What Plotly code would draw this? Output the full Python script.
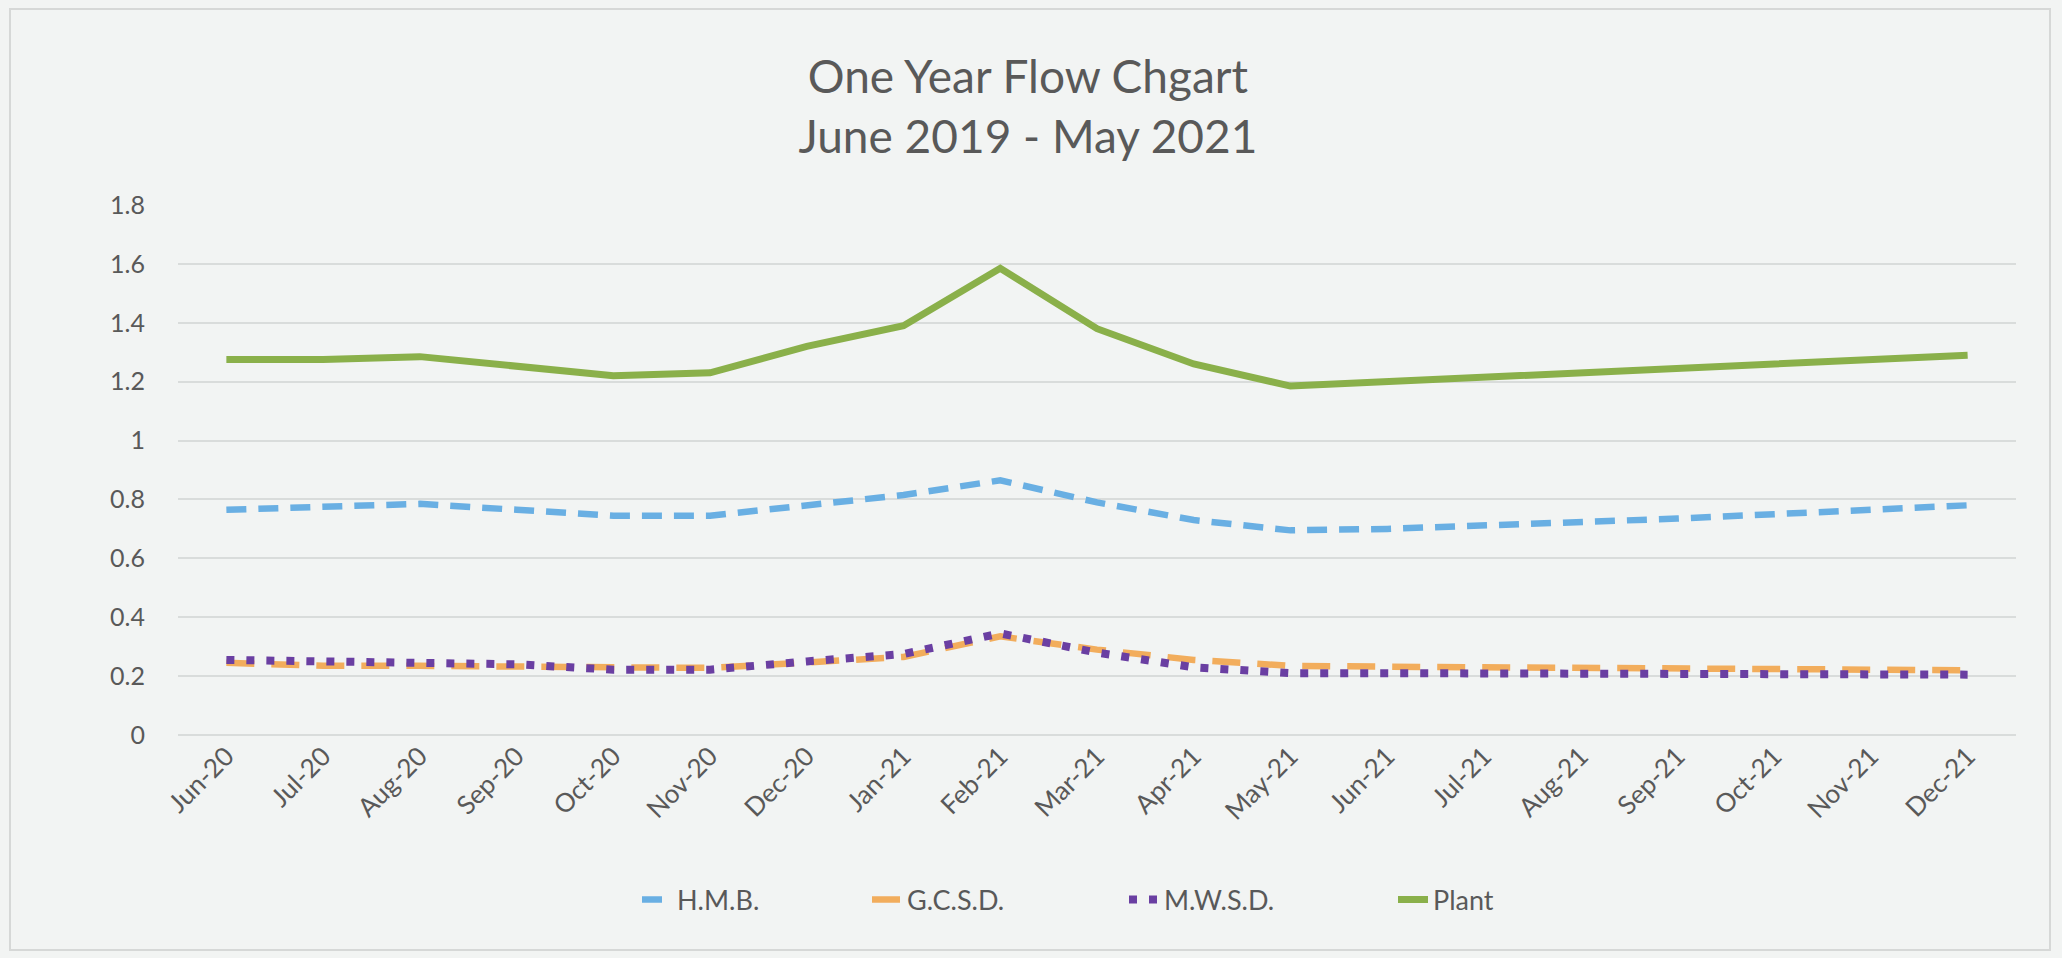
import plotly.graph_objects as go

# Monthly flow categories and series values
months = ["Jun-20", "Jul-20", "Aug-20", "Sep-20", "Oct-20", "Nov-20", "Dec-20",
          "Jan-21", "Feb-21", "Mar-21", "Apr-21", "May-21", "Jun-21", "Jul-21",
          "Aug-21", "Sep-21", "Oct-21", "Nov-21", "Dec-21"]

hmb = [0.765, 0.775, 0.785, 0.765, 0.745, 0.745, 0.78,
       0.815, 0.865, 0.79, 0.73, 0.695, 0.70, 0.71,
       0.72, 0.735, 0.75, 0.765, 0.78]

gcsd = [0.245, 0.235, 0.235, 0.23, 0.23, 0.228, 0.245,
        0.265, 0.335, 0.29, 0.255, 0.235, 0.232, 0.23,
        0.228, 0.226, 0.224, 0.222, 0.22]

mwsd = [0.255, 0.25, 0.248, 0.24, 0.222, 0.222, 0.25,
        0.275, 0.345, 0.28, 0.23, 0.21, 0.21, 0.21,
        0.208, 0.208, 0.207, 0.206, 0.205]

plant = [1.275, 1.275, 1.285, 1.25, 1.22, 1.23, 1.32,
         1.39, 1.585, 1.38, 1.26, 1.185, 1.20, 1.215,
         1.23, 1.245, 1.26, 1.275, 1.29]

y_ticks = [0, 0.2, 0.4, 0.6, 0.8, 1, 1.2, 1.4, 1.6, 1.8]
y_tick_labels = ["0", "0.2", "0.4", "0.6", "0.8", "1", "1.2", "1.4", "1.6", "1.8"]

font_family = "Lato, 'Open Sans', sans-serif"
text_color = "#595959"

# plot area in pixels (left edge and width) used to place the legend entries
plot_left, plot_width = 178, 1838

fig = go.Figure()

fig.add_trace(go.Scatter(
    x=months, y=hmb, name="H.M.B.", mode="lines", legend="legend",
    line=dict(color="#69AFE3", width=6.5, dash="20px,12px"),
))
fig.add_trace(go.Scatter(
    x=months, y=gcsd, name="G.C.S.D.", mode="lines", legend="legend2",
    line=dict(color="#F2AD5C", width=6.5, dash="28px,17px"),
))
fig.add_trace(go.Scatter(
    x=months, y=mwsd, name="M.W.S.D.", mode="lines", legend="legend3",
    line=dict(color="#6A3FA2", width=8, dash="8px,12px"),
))
fig.add_trace(go.Scatter(
    x=months, y=plant, name="Plant", mode="lines", legend="legend4",
    line=dict(color="#8AB04A", width=7),
))


def legend_at(px):
    return dict(
        orientation="h",
        x=(px - plot_left) / plot_width, xanchor="left",
        y=-0.311, yanchor="middle",
        font=dict(family=font_family, size=27, color=text_color),
        bgcolor="rgba(0,0,0,0)",
    )


fig.update_layout(
    width=2062,
    height=958,
    paper_bgcolor="#f2f4f3",
    plot_bgcolor="#f2f4f3",
    margin=dict(l=178, r=46, t=205, b=223),
    title=dict(
        text="One Year Flow Chgart<br>June 2019 - May 2021",
        x=0.4985, xanchor="center",
        y=0.903, yanchor="middle",
        font=dict(family=font_family, size=46, color=text_color),
    ),
    font=dict(family=font_family, color=text_color),
    showlegend=True,
    legend=legend_at(637),
    legend2=legend_at(867),
    legend3=legend_at(1124),
    legend4=legend_at(1393),
    xaxis=dict(
        type="category",
        tickangle=-45,
        tickfont=dict(family=font_family, size=26, color=text_color),
        showgrid=False,
        showline=False,
        zeroline=False,
        ticks="",
        ticklen=0,
        range=[-0.5, len(months) - 0.5],
    ),
    yaxis=dict(
        range=[0, 1.8],
        tickvals=y_ticks,
        ticktext=y_tick_labels,
        tickfont=dict(family=font_family, size=25, color=text_color),
        showgrid=True,
        gridcolor="#d9dcdb",
        gridwidth=2,
        zeroline=True,
        zerolinecolor="#d9dcdb",
        zerolinewidth=2,
        showline=False,
        ticks="",
        ticklabelstandoff=32,
    ),
    shapes=[
        dict(type="rect", xref="paper", yref="paper",
             x0=(10 - 178) / 1838, x1=(2050 - 178) / 1838,
             y0=(735 - 950) / 530, y1=(735 - 9) / 530,
             line=dict(color="#d6d8d7", width=2), fillcolor="rgba(0,0,0,0)",
             layer="below"),
    ],
)

fig.write_html("out.html")
